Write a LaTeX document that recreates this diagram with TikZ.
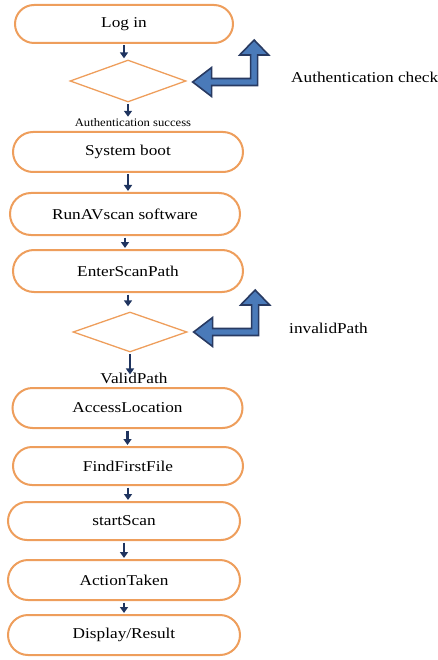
\documentclass[tikz,border=0pt]{standalone}
\usepackage{fontspec}
\setmainfont{Liberation Serif}
\usetikzlibrary{arrows.meta,shapes.geometric}
\definecolor{boxorange}{RGB}{238,158,92}
\definecolor{navy}{RGB}{31,52,95}
\definecolor{blockfill}{RGB}{74,122,185}
\definecolor{blockline}{RGB}{40,58,98}
\newcommand\wlbl[1]{\scalebox{1.15}[1]{#1}}
\begin{document}
\begin{tikzpicture}[x=1pt,y=-1pt,
  stadium/.style={draw=boxorange, line width=2pt, fill=white, rounded corners=20pt,
    minimum width=230pt, minimum height=40pt, inner sep=0pt,
    font=\fontsize{15}{18}\selectfont},
  decision/.style={draw=boxorange, line width=1.3pt, shape=diamond, inner sep=0pt,
    minimum width=116pt, minimum height=42pt},
  lbl/.style={inner sep=1pt, font=\fontsize{15}{18}\selectfont},
  flow/.style={draw=navy, line width=2.8pt, -{Triangle[width=8pt,length=6pt]},
    shorten <=1.5pt, shorten >=1pt},
  bentarrow/.pic={
    \draw[fill=blockfill, draw=blockline, line width=1.6pt, line join=miter]
      (0,0) -- (19,-14.5) -- (19,-3.5) -- (58,-3.5) -- (58,-27) -- (47,-27)
      -- (61.5,-42) -- (76,-27) -- (65,-27) -- (65,3.5) -- (19,3.5) -- (19,14.5) -- cycle;
  }]
\useasboundingbox (0,0) rectangle (437,660);

\node[stadium, minimum width=218pt, minimum height=38pt, rounded corners=19pt] (login) at (124,24) {\wlbl{Log in}};
\node[decision] (d1) at (128,81) {};
\node[inner sep=1pt, font=\fontsize{11.5}{13}\selectfont] (authok) at (133,123) {\scalebox{1.1}[1]{Authentication success}};
\node[lbl, anchor=west] (authchk) at (290,77) {\wlbl{Authentication check}};
\path (d1.east) ++(6,1) pic {bentarrow};

\node[stadium] (boot) at (128,152) {\wlbl{System boot}};
\node[stadium, minimum height=42pt, rounded corners=21pt] (runav) at (125,214) {\wlbl{RunAVscan software}};
\node[stadium, minimum height=42pt, rounded corners=21pt] (enter) at (128,271) {\wlbl{EnterScanPath}};
\node[decision, minimum width=114pt, minimum height=40pt] (d2) at (130,332) {};
\node[lbl, anchor=west] (invalid) at (288,328) {\wlbl{invalidPath}};
\path (d2.east) ++(6,0) pic {bentarrow};
\node[lbl] (valid) at (134,378) {\wlbl{ValidPath}};

\node[stadium] (access) at (127.5,408) {\wlbl{AccessLocation}};
\node[stadium, minimum height=38pt, rounded corners=19pt] (find) at (128,466) {\wlbl{FindFirstFile}};
\node[stadium, minimum width=232pt, minimum height=38pt, rounded corners=19pt] (scan) at (124,521) {\wlbl{startScan}};
\node[stadium, minimum width=232pt] (action) at (124,580) {\wlbl{ActionTaken}};
\node[stadium, minimum width=232pt] (result) at (124,635) {\wlbl{Display/Result}};

\draw[flow] (login.south) -- (login.south |- d1.north);
\draw[flow] (d1.south) -- (d1.south |- authok.north);
\draw[flow] (boot.south) -- (boot.south |- runav.north);
\draw[flow] (runav.south) -- (runav.south |- enter.north);
\draw[flow, shorten >=5pt] (enter.south) -- (enter.south |- d2.north);
\draw[flow, shorten >=-3pt] (d2.south) -- (d2.south |- valid.north);
\draw[flow] (access.south) -- (access.south |- find.north);
\draw[flow] (find.south) -- (find.south |- scan.north);
\draw[flow] (scan.south) -- (scan.south |- action.north);
\draw[flow] (action.south) -- (action.south |- result.north);
\end{tikzpicture}
\end{document}
